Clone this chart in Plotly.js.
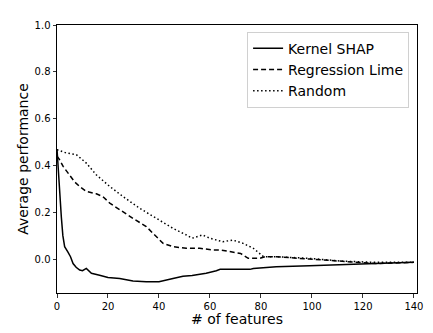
<!DOCTYPE html>
<html>
<head>
<meta charset="utf-8">
<script src="https://cdn.plot.ly/plotly-3.0.1.min.js"></script>
<style>
  html, body { margin: 0; padding: 0; background: #fff; }
  #chart { width: 433px; height: 333px; }
</style>
</head>
<body>
<div id="chart"></div>
<script>
// values
const shapX = [0, 0.5, 1, 1.7, 2.3, 3, 4.3, 5.3, 6.3, 7.5, 8.9, 10, 11.5, 13.5, 16.7, 20, 24.6, 29.8, 35, 40, 45.5, 49.4, 53, 58.5, 62.5, 64, 70, 75.7, 77, 86, 99, 112, 125, 140];
const shapY = [0.47, 0.38, 0.28, 0.18, 0.1, 0.053, 0.03, 0.01, -0.019, -0.035, -0.047, -0.05, -0.04, -0.061, -0.069, -0.079, -0.083, -0.094, -0.097, -0.097, -0.083, -0.073, -0.07, -0.061, -0.05, -0.044, -0.044, -0.044, -0.04, -0.033, -0.029, -0.023, -0.019, -0.014];

const limeX = [0, 1, 2.4, 5, 6.9, 8.9, 11.5, 15.4, 18, 20.7, 24.6, 29.8, 35, 39, 41.6, 45.5, 50.7, 56, 61, 64, 68, 72, 75, 79.6, 81.6, 86, 99, 112, 125, 140];
const limeY = [0.44, 0.425, 0.396, 0.36, 0.33, 0.31, 0.289, 0.279, 0.267, 0.239, 0.21, 0.174, 0.139, 0.096, 0.067, 0.053, 0.046, 0.046, 0.039, 0.039, 0.031, 0.024, 0.003, 0.003, 0.01, 0.01, 0, -0.009, -0.019, -0.014];

const randX = [0, 3.7, 7.6, 11.5, 15.4, 20.7, 25.9, 32.4, 39, 45.5, 50.7, 53, 57, 60, 65, 69, 73, 77, 81, 86, 99, 112, 125, 140];
const randY = [0.467, 0.453, 0.446, 0.41, 0.36, 0.31, 0.267, 0.217, 0.174, 0.131, 0.103, 0.089, 0.103, 0.089, 0.074, 0.081, 0.067, 0.046, 0.01, 0.01, 0.003, -0.009, -0.014, -0.014];

const names = ['Kernel SHAP', 'Regression Lime', 'Random'];
const xTicks = [0, 20, 40, 60, 80, 100, 120, 140];
const yTicks = [0, 0.2, 0.4, 0.6, 0.8, 1.0];

const traces = [
  { x: shapX, y: shapY, mode: 'lines', name: names[0], line: { color: 'black', width: 1.5 } },
  { x: limeX, y: limeY, mode: 'lines', name: names[1], line: { color: 'black', width: 1.5, dash: '5px,3px' } },
  { x: randX, y: randY, mode: 'lines', name: names[2], line: { color: 'black', width: 1.5, dash: '1.5px,2.5px' } }
];

const axisCommon = {
  showline: true, linecolor: 'black', linewidth: 1, mirror: true,
  ticks: 'outside', ticklen: 3.5, tickwidth: 0.8, tickcolor: 'black',
  showgrid: false, zeroline: false,
  tickfont: { family: 'DejaVu Sans', size: 10, color: 'black' }
};

Plotly.newPlot('chart', traces, {
  width: 433, height: 333,
  margin: { l: 57, r: 16, t: 25, b: 40 },
  paper_bgcolor: 'white', plot_bgcolor: 'white',
  font: { family: 'DejaVu Sans', color: 'black' },
  xaxis: Object.assign({}, axisCommon, {
    range: [0, 141.2], tickvals: xTicks,
    title: { text: '# of features', font: { size: 14 }, standoff: 3 }
  }),
  yaxis: Object.assign({}, axisCommon, {
    range: [-0.145, 1.0], tickvals: yTicks, tickformat: '.1f',
    title: { text: 'Average performance', font: { size: 14 }, standoff: 2 }
  }),
  legend: {
    x: 0.978, xanchor: 'right', y: 0.975, yanchor: 'top',
    bordercolor: '#d0d0d0', borderwidth: 1, bgcolor: 'white',
    font: { family: 'DejaVu Sans', size: 14 },
    itemwidth: 30, tracegroupgap: 0
  }
}, { displayModeBar: false, staticPlot: true });
</script>
</body>
</html>
